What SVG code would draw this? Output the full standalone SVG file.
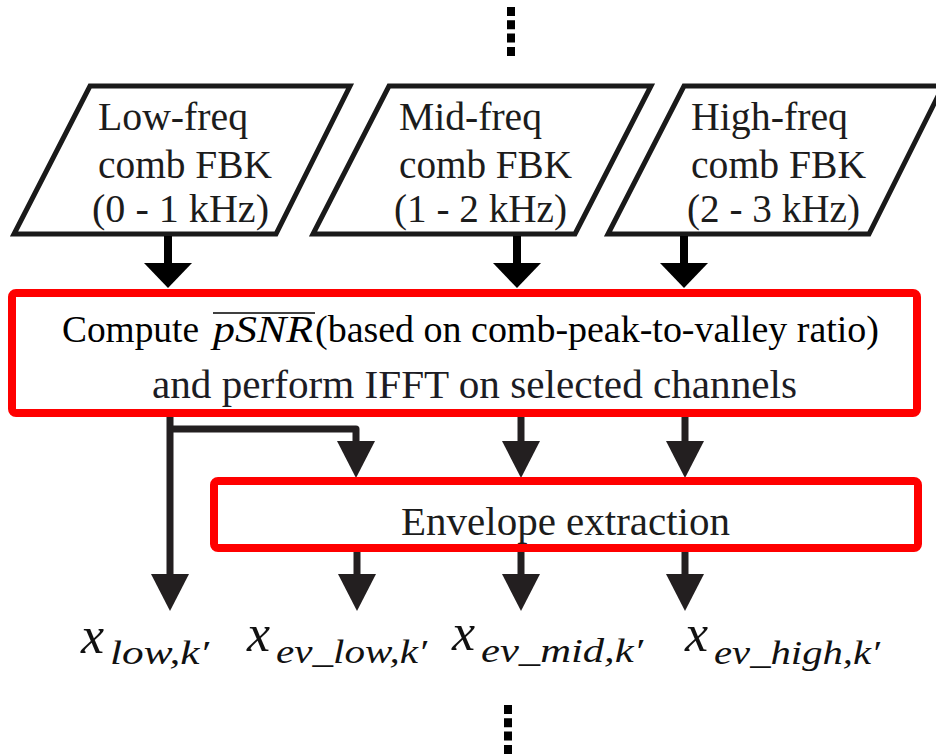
<svg xmlns="http://www.w3.org/2000/svg" width="936" height="754" viewBox="0 0 936 754">
<defs>
<style>
.para{fill:#fff;stroke:#1a1a1a;stroke-width:5;stroke-linejoin:miter}
.red{fill:#fff;stroke:#ff0000;stroke-width:8}
.c1{fill:none;stroke:#000;stroke-width:8}
.c2{fill:none;stroke:#231f20;stroke-width:7;stroke-linejoin:round}
.dots{stroke:#000;stroke-width:8;stroke-dasharray:9 4.3}
</style>
<marker id="hA" markerUnits="userSpaceOnUse" viewBox="0 0 25 48" markerWidth="25" markerHeight="48" refX="0" refY="24" orient="auto"><path d="M0,0 L25,24 L0,48 Z" fill="#000"/></marker>
<marker id="hB" markerUnits="userSpaceOnUse" viewBox="0 0 37 38" markerWidth="37" markerHeight="38" refX="0" refY="19" orient="auto"><path d="M0,0 L37,19 L0,38 Z" fill="#231f20"/></marker>
</defs>
<rect width="936" height="754" fill="#fff"/>

<g id="dots-top"><line class="dots" x1="511" y1="7" x2="511" y2="57"/></g>

<g id="low-freq" font-family="Liberation Serif, serif" font-size="40" fill="#1c1c1c">
<polygon class="para" points="90,86 350,86 276,234 14,234"/>
<text x="98" y="130" textLength="150" lengthAdjust="spacingAndGlyphs">Low-freq</text>
<text x="98" y="178" textLength="174" lengthAdjust="spacingAndGlyphs">comb FBK</text>
<text x="92" y="222" textLength="177" lengthAdjust="spacingAndGlyphs">(0 - 1 kHz)</text>
</g>
<g id="mid-freq" font-family="Liberation Serif, serif" font-size="40" fill="#1c1c1c">
<polygon class="para" points="389,86 651,86 575,234 313,234"/>
<text x="399" y="130" textLength="143" lengthAdjust="spacingAndGlyphs">Mid-freq</text>
<text x="399" y="178" textLength="173" lengthAdjust="spacingAndGlyphs">comb FBK</text>
<text x="394" y="222" textLength="173" lengthAdjust="spacingAndGlyphs">(1 - 2 kHz)</text>
</g>
<g id="high-freq" font-family="Liberation Serif, serif" font-size="40" fill="#1c1c1c">
<polygon class="para" points="684,86 943,86 869,234 608,234"/>
<text x="691" y="130" textLength="157" lengthAdjust="spacingAndGlyphs">High-freq</text>
<text x="691" y="178" textLength="175" lengthAdjust="spacingAndGlyphs">comb FBK</text>
<text x="687" y="222" textLength="173" lengthAdjust="spacingAndGlyphs">(2 - 3 kHz)</text>
</g>

<g id="connectors">
<line class="c1" x1="168" y1="236" x2="168" y2="263" marker-end="url(#hA)"/>
<line class="c1" x1="517" y1="236" x2="517" y2="263" marker-end="url(#hA)"/>
<line class="c1" x1="684" y1="236" x2="684" y2="263" marker-end="url(#hA)"/>
<path class="c2" d="M170,417 V574" marker-end="url(#hB)"/>
<path class="c2" d="M170,429 H356 V441" marker-end="url(#hB)"/>
<line class="c2" x1="521" y1="417" x2="521" y2="441" marker-end="url(#hB)"/>
<line class="c2" x1="685" y1="417" x2="685" y2="441" marker-end="url(#hB)"/>
<line class="c2" x1="357" y1="552" x2="357" y2="574" marker-end="url(#hB)"/>
<line class="c2" x1="521" y1="552" x2="521" y2="574" marker-end="url(#hB)"/>
<line class="c2" x1="685" y1="552" x2="685" y2="574" marker-end="url(#hB)"/>
</g>

<g id="compute" font-family="Liberation Serif, serif">
<rect class="red" x="12" y="293" width="905" height="120" rx="4"/>
<text font-size="37" x="62" y="342" fill="#000" textLength="137" lengthAdjust="spacingAndGlyphs">Compute</text>
<text font-size="37" font-style="italic" x="213" y="342" fill="#000" textLength="100" lengthAdjust="spacingAndGlyphs">pSNR</text>
<line x1="213" y1="313" x2="315" y2="313" stroke="#000" stroke-width="1.6"/>
<text font-size="37" x="315" y="342" fill="#000" textLength="564" lengthAdjust="spacingAndGlyphs">(based on comb-peak-to-valley ratio)</text>
<text font-size="41" x="152" y="398" fill="#1c1c24" textLength="645" lengthAdjust="spacingAndGlyphs">and perform IFFT on selected channels</text>
</g>

<g id="envelope" font-family="Liberation Serif, serif">
<rect class="red" x="214" y="481" width="704" height="67" rx="4"/>
<text font-size="41" x="401" y="535" fill="#1c1c1c" textLength="329" lengthAdjust="spacingAndGlyphs">Envelope extraction</text>
</g>

<g id="out-low" font-family="Liberation Serif, serif" font-style="italic" fill="#111">
<text font-size="52" x="81" y="653">x</text>
<text font-size="33" x="110" y="664" textLength="99" lengthAdjust="spacingAndGlyphs">low,k′</text>
</g>
<g id="out-ev-low" font-family="Liberation Serif, serif" font-style="italic" fill="#111">
<text font-size="52" x="247" y="651">x</text>
<text font-size="33" x="276" y="663" textLength="151" lengthAdjust="spacingAndGlyphs">ev_low,k′</text>
</g>
<g id="out-ev-mid" font-family="Liberation Serif, serif" font-style="italic" fill="#111">
<text font-size="52" x="452" y="650">x</text>
<text font-size="33" x="481" y="662" textLength="162" lengthAdjust="spacingAndGlyphs">ev_mid,k′</text>
</g>
<g id="out-ev-high" font-family="Liberation Serif, serif" font-style="italic" fill="#111">
<text font-size="52" x="685" y="651">x</text>
<text font-size="33" x="714" y="664" textLength="166" lengthAdjust="spacingAndGlyphs">ev_high,k′</text>
</g>

<g id="dots-bottom"><line class="dots" x1="508" y1="705" x2="508" y2="754"/></g>
</svg>
